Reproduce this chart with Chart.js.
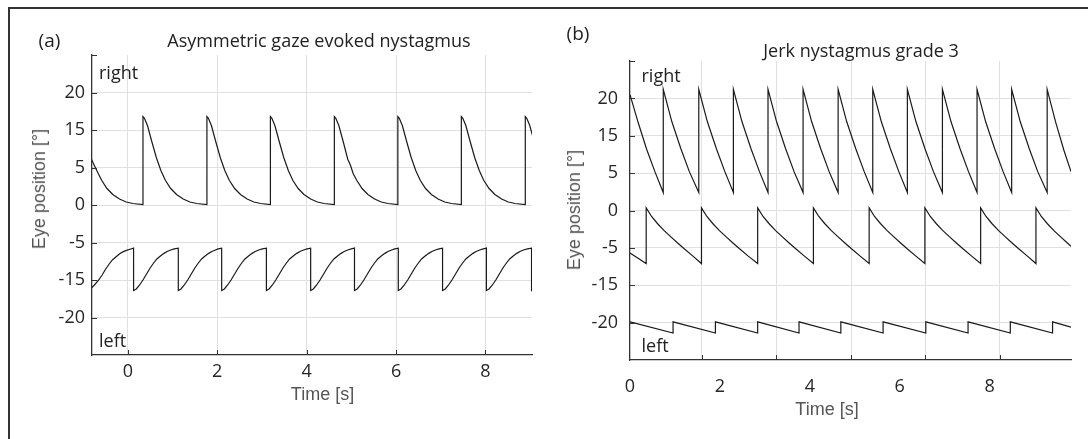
<!DOCTYPE html>
<html><head><meta charset="utf-8">
<script src="https://cdn.jsdelivr.net/npm/chart.js@4.4.1/dist/chart.umd.min.js"></script>
<style>
html,body{margin:0;padding:0;background:#fff;}
#wrap{position:relative;width:1088px;height:439px;overflow:hidden;background:#fff;}
.frame{position:absolute;left:8px;top:7px;width:1200px;height:600px;border-top:2px solid #333;border-left:2px solid #333;}
.box{position:absolute;top:0;width:544px;height:439px;}
.t{position:absolute;white-space:nowrap;line-height:1;transform:translate(-50%,-50%);font-family:'Open Sans',sans-serif;font-size:18px;color:#222;}
.l{transform:translate(0,-50%);}
.ax{font-family:'Liberation Sans',Arial,sans-serif;color:#555;}
.rot{transform:translate(-50%,-50%) rotate(-90deg);}
</style></head>
<body>
<div id="wrap">
  <div class="frame"></div>
  <div class="box" style="left:0"><canvas id="cA" width="544" height="439"></canvas></div>
  <div class="box" style="left:544px"><canvas id="cB" width="544" height="439"></canvas></div>
  <div class="t" style="left:49.5px;top:40px;font-size:19px">(a)</div>
  <div class="t" style="left:319px;top:40px">Asymmetric gaze evoked nystagmus</div>
  <div class="t" style="left:578px;top:33px;font-size:19px">(b)</div>
  <div class="t" style="left:861px;top:50px">Jerk nystagmus grade 3</div>
  <div class="t l" style="left:99px;top:71.5px">right</div>
  <div class="t l" style="left:99px;top:340px">left</div>
  <div class="t l" style="left:641.5px;top:75px">right</div>
  <div class="t l" style="left:641.5px;top:345px">left</div>
  <div class="t ax rot" style="left:38.5px;top:189px">Eye position [°]</div>
  <div class="t ax rot" style="left:574px;top:210px">Eye position [°]</div>
  <div class="t ax" style="left:322.5px;top:393.5px">Time [s]</div>
  <div class="t ax" style="left:827px;top:408.5px">Time [s]</div>
</div>
<script>
// ---- tick definitions ----
const yTickValues = [-15, -10, -5, 0, 5, 10, 15];
const yTickLabels = ['-20', '-15', '-5', '0', '5', '15', '20'];
const xTicksA = [0, 2, 4, 6, 8];
const xLabelsB = [0, 2, 4, 6, 8];
const xGridB = [1.6, 3.25, 4.92, 6.57, 8.22];

// ---- panel (a): asymmetric gaze evoked nystagmus, [time s, position] ----
const aRight = [
[-0.82,6.2],[-0.75,5.3],[-0.685,4.5],[-0.585,3.3],[-0.465,2.2],[-0.335,1.4],[-0.185,0.8],[-0.035,0.4],[0.115,0.2],[0.34,0.05],
[0.34,11.8],[0.37,11.6],[0.44,10.6],[0.54,8.4],[0.64,6.3],[0.74,4.6],[0.84,3.3],[0.96,2.2],[1.09,1.4],[1.24,0.8],[1.39,0.4],[1.54,0.2],[1.77,0.05],
[1.77,11.8],[1.80,11.6],[1.87,10.6],[1.97,8.4],[2.07,6.3],[2.17,4.6],[2.27,3.3],[2.39,2.2],[2.52,1.4],[2.67,0.8],[2.82,0.4],[2.97,0.2],[3.19,0.05],
[3.19,11.8],[3.22,11.6],[3.29,10.6],[3.39,8.4],[3.49,6.3],[3.59,4.6],[3.69,3.3],[3.81,2.2],[3.94,1.4],[4.09,0.8],[4.24,0.4],[4.39,0.2],[4.62,0.05],
[4.62,11.8],[4.65,11.6],[4.72,10.6],[4.82,8.4],[4.92,6.1],[4.98,5.3],[5.04,4.2],[5.12,3.3],[5.24,2.2],[5.37,1.4],[5.52,0.8],[5.67,0.4],[5.82,0.2],[6.04,0.05],
[6.04,11.8],[6.07,11.6],[6.14,10.6],[6.24,8.4],[6.34,6.3],[6.44,4.6],[6.54,3.3],[6.66,2.2],[6.79,1.4],[6.94,0.8],[7.09,0.4],[7.24,0.2],[7.46,0.05],
[7.46,11.8],[7.49,11.6],[7.56,10.6],[7.66,8.4],[7.76,6.3],[7.86,4.6],[7.96,3.3],[8.08,2.2],[8.21,1.4],[8.36,0.8],[8.51,0.4],[8.66,0.2],[8.89,0.05],
[8.89,11.8],[8.92,11.6],[8.99,10.6],[9.09,8.4]
];
const aLeft = [
[-0.82,-11.1],[-0.75,-10.7],[-0.65,-10.0],[-0.57,-9.3],[-0.49,-8.5],[-0.42,-7.9],[-0.34,-7.3],[-0.26,-6.9],[-0.18,-6.5],[-0.11,-6.25],[-0.03,-6.05],[0.05,-5.9],[0.13,-5.75],
[0.13,-11.4],[0.19,-11.2],[0.26,-10.7],[0.34,-10.0],[0.42,-9.2],[0.50,-8.4],[0.57,-7.8],[0.65,-7.2],[0.73,-6.8],[0.81,-6.45],[0.88,-6.2],[0.96,-6.0],[1.04,-5.85],[1.13,-5.75],
[1.13,-11.4],[1.19,-11.2],[1.26,-10.7],[1.34,-10.0],[1.42,-9.2],[1.50,-8.4],[1.57,-7.8],[1.65,-7.2],[1.73,-6.8],[1.81,-6.45],[1.88,-6.2],[1.96,-6.0],[2.02,-5.85],[2.10,-5.75],
[2.10,-11.4],[2.16,-11.2],[2.23,-10.7],[2.31,-10.0],[2.39,-9.2],[2.47,-8.4],[2.54,-7.8],[2.62,-7.2],[2.70,-6.8],[2.78,-6.45],[2.85,-6.2],[2.93,-6.0],[3.01,-5.85],[3.10,-5.75],
[3.10,-11.4],[3.16,-11.2],[3.23,-10.7],[3.31,-10.0],[3.39,-9.2],[3.47,-8.4],[3.54,-7.8],[3.62,-7.2],[3.70,-6.8],[3.78,-6.45],[3.85,-6.2],[3.93,-6.0],[4.01,-5.85],[4.09,-5.75],
[4.09,-11.4],[4.15,-11.2],[4.22,-10.7],[4.30,-10.0],[4.38,-9.2],[4.46,-8.4],[4.53,-7.8],[4.61,-7.2],[4.69,-6.8],[4.77,-6.45],[4.84,-6.2],[4.92,-6.0],[5.00,-5.85],[5.07,-5.75],
[5.07,-11.4],[5.13,-11.2],[5.20,-10.7],[5.28,-10.0],[5.36,-9.2],[5.44,-8.4],[5.51,-7.8],[5.59,-7.2],[5.67,-6.8],[5.75,-6.45],[5.82,-6.2],[5.90,-6.0],[5.97,-5.85],[6.05,-5.75],
[6.05,-11.4],[6.11,-11.2],[6.18,-10.7],[6.26,-10.0],[6.34,-9.2],[6.42,-8.4],[6.49,-7.8],[6.57,-7.2],[6.65,-6.8],[6.73,-6.45],[6.80,-6.2],[6.88,-6.0],[6.96,-5.85],[7.04,-5.75],
[7.04,-11.4],[7.10,-11.2],[7.17,-10.7],[7.25,-10.0],[7.33,-9.2],[7.41,-8.4],[7.48,-7.8],[7.56,-7.2],[7.64,-6.8],[7.72,-6.45],[7.79,-6.2],[7.87,-6.0],[7.95,-5.85],[8.02,-5.75],
[8.02,-11.4],[8.08,-11.2],[8.15,-10.7],[8.23,-10.0],[8.31,-9.2],[8.39,-8.4],[8.46,-7.8],[8.54,-7.2],[8.62,-6.8],[8.70,-6.45],[8.77,-6.2],[8.85,-6.0],[8.94,-5.85],[9.03,-5.75],
[9.03,-11.4],[9.09,-11.2]
];

// ---- panel (b): jerk nystagmus grade 3, [time s, position] ----
const bTop = [
[0,15.5],[0.18,11.8],[0.37,8.2],[0.56,5.1],[0.74,2.4],
[0.74,16.2],[0.93,11.9],[1.13,8.3],[1.32,5.2],[1.53,2.4],
[1.53,16.2],[1.72,11.9],[1.92,8.3],[2.11,5.2],[2.30,2.4],
[2.30,16.2],[2.49,11.9],[2.69,8.3],[2.88,5.2],[3.07,2.4],
[3.07,16.2],[3.26,11.9],[3.46,8.3],[3.65,5.2],[3.85,2.4],
[3.85,16.2],[4.04,11.9],[4.24,8.3],[4.43,5.2],[4.63,2.4],
[4.63,16.2],[4.82,11.9],[5.02,8.3],[5.21,5.2],[5.40,2.4],
[5.40,16.2],[5.59,11.9],[5.79,8.3],[5.98,5.2],[6.17,2.4],
[6.17,16.2],[6.36,11.9],[6.56,8.3],[6.75,5.2],[6.95,2.4],
[6.95,16.2],[7.14,11.9],[7.34,8.3],[7.53,5.2],[7.72,2.4],
[7.72,16.2],[7.91,11.9],[8.11,8.3],[8.30,5.2],[8.49,2.4],
[8.49,16.2],[8.68,11.9],[8.88,8.3],[9.07,5.2],[9.28,2.4],
[9.28,16.2],[9.47,11.8],[9.65,8.1],[9.81,5.2]
];
const bMid = [
[0,-5.7],[0.18,-6.4],[0.36,-7.1],
[0.36,0.35],[0.48,-0.8],[0.61,-1.74],[0.76,-2.7],[0.91,-3.53],[1.06,-4.35],[1.20,-5.09],[1.40,-6.1],[1.59,-7.1],
[1.59,0.35],[1.71,-0.8],[1.84,-1.74],[1.99,-2.7],[2.14,-3.53],[2.29,-4.35],[2.43,-5.09],[2.63,-6.1],[2.84,-7.1],
[2.84,0.35],[2.96,-0.8],[3.09,-1.74],[3.24,-2.7],[3.39,-3.53],[3.54,-4.35],[3.68,-5.09],[3.88,-6.1],[4.08,-7.1],
[4.08,0.35],[4.20,-0.8],[4.33,-1.74],[4.48,-2.7],[4.63,-3.53],[4.78,-4.35],[4.92,-5.09],[5.12,-6.1],[5.32,-7.1],
[5.32,0.35],[5.44,-0.8],[5.57,-1.74],[5.72,-2.7],[5.87,-3.53],[6.02,-4.35],[6.16,-5.09],[6.36,-6.1],[6.56,-7.1],
[6.56,0.35],[6.68,-0.8],[6.81,-1.74],[6.96,-2.7],[7.11,-3.53],[7.26,-4.35],[7.40,-5.09],[7.60,-6.1],[7.80,-7.1],
[7.80,0.35],[7.92,-0.8],[8.05,-1.74],[8.20,-2.7],[8.35,-3.53],[8.50,-4.35],[8.64,-5.09],[8.84,-6.1],[9.03,-7.1],
[9.03,0.35],[9.15,-0.8],[9.28,-1.74],[9.43,-2.7],[9.58,-3.53],[9.73,-4.35],[9.81,-4.8]
];
const bBot = [
[0,-14.9],[0.958,-16.4],[0.958,-14.9],[1.90,-16.4],[1.90,-14.9],[2.84,-16.4],[2.84,-14.9],
[3.76,-16.4],[3.76,-14.9],[4.69,-16.4],[4.69,-14.9],[5.63,-16.4],[5.63,-14.9],[6.58,-16.4],
[6.58,-14.9],[7.52,-16.4],[7.52,-14.9],[8.46,-16.4],[8.46,-14.9],[9.40,-16.4],[9.40,-14.9],[9.81,-15.6]
];

// ---- rendering ----
const TXT = '#262626', GRID = '#e0e0e0', AXIS = '#333333', LINE = '#1a1a1a';
Chart.defaults.font.family = "'Open Sans', sans-serif";
Chart.defaults.font.size = 18;
Chart.defaults.color = TXT;

const innerTicks = {
  id: 'innerTicks',
  afterDraw(chart, args, opts) {
    const {ctx, chartArea: a, scales: {x, y}} = chart;
    ctx.save();
    ctx.strokeStyle = AXIS; ctx.lineWidth = 1;
    ctx.beginPath();
    for (const v of opts.x) {
      const px = Math.round(x.getPixelForValue(v)) + 0.5;
      ctx.moveTo(px, a.bottom); ctx.lineTo(px, a.bottom - 5);
    }
    for (const v of opts.y) {
      const py = Math.round(y.getPixelForValue(v)) + 0.5;
      ctx.moveTo(a.left, py); ctx.lineTo(a.left + 5, py);
    }
    ctx.stroke();
    ctx.restore();
  }
};

function ds(arr) {
  return {data: arr.map(([x, y]) => ({x, y})), borderColor: LINE, backgroundColor: LINE,
          borderWidth: 1.2, pointRadius: 0, tension: 0, fill: false};
}

function build(id, o) {
  return new Chart(document.getElementById(id), {
    type: 'line',
    data: {datasets: o.series.map(ds)},
    options: {
      responsive: false, animation: false, devicePixelRatio: 1,
      layout: {padding: {left: 0, top: o.top, right: o.right, bottom: 0}},
      plugins: {legend: {display: false}, tooltip: {enabled: false},
                innerTicks: {x: o.markX, y: [...yTickValues, 20]}},
      scales: {
        x: {
          type: 'linear', min: o.xmin, max: o.xmax,
          afterBuildTicks: s => { s.ticks = o.xTicks.map(v => ({value: v})); },
          afterFit: s => { s.height = o.xh; },
          ticks: {autoSkip: false, maxRotation: 0, minRotation: 0, padding: o.xpad, color: TXT,
                  callback: v => (o.xLabels.includes(v) ? String(v) : '')},
          grid: {drawTicks: false, lineWidth: 1,
                 color: c => (c.tick && o.gridX.includes(c.tick.value)) ? GRID : 'rgba(0,0,0,0)'},
          border: {display: true, color: AXIS, width: 1.3}
        },
        y: {
          type: 'linear', min: -20, max: 20,
          afterBuildTicks: s => { s.ticks = yTickValues.map(v => ({value: v})); },
          afterFit: s => { s.width = o.yw; },
          ticks: {autoSkip: false, padding: o.ypad, color: TXT,
                  callback: v => { const i = yTickValues.indexOf(v); return i >= 0 ? yTickLabels[i] : ''; }},
          grid: {drawTicks: false, color: GRID, lineWidth: 1},
          border: {display: true, color: AXIS, width: 1.3}
        }
      }
    },
    plugins: [innerTicks]
  });
}

build('cA', {series: [aRight, aLeft], top: 55, right: 12, xh: 84, yw: 92,
  xmin: -0.8, xmax: 9.04, xTicks: xTicksA, xLabels: xTicksA, gridX: xTicksA, markX: xTicksA,
  xpad: 6, ypad: 7});

const xTicksB = [...xLabelsB, ...xGridB].sort((p, q) => p - q);
build('cB', {series: [bTop, bMid, bBot], top: 61, right: 17, xh: 79, yw: 86,
  xmin: 0, xmax: 9.81, xTicks: xTicksB, xLabels: xLabelsB, gridX: xGridB, markX: xGridB,
  xpad: 16, ypad: 12});
</script>
</body></html>
